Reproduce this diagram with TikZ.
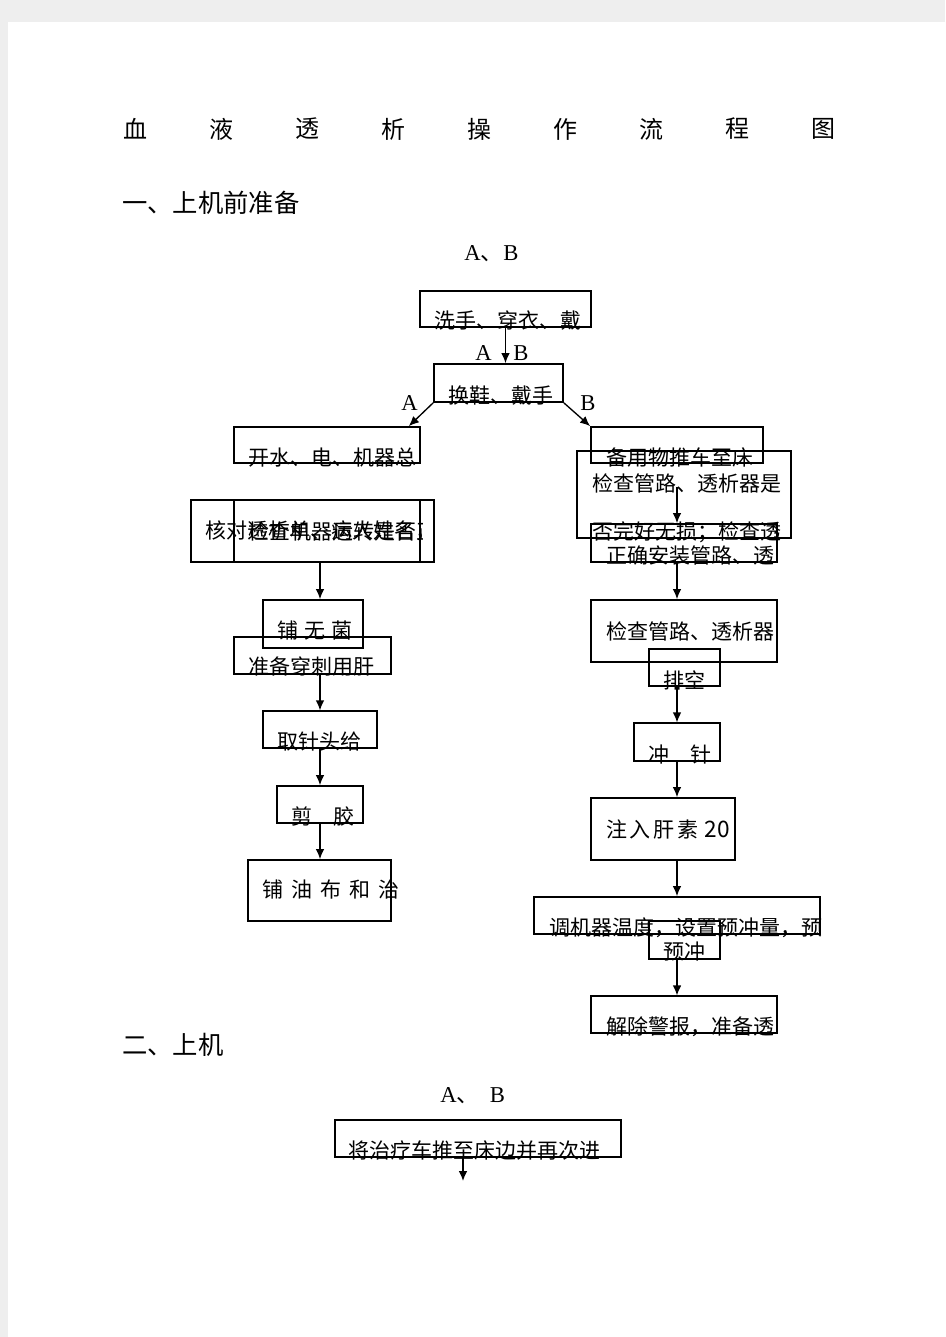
\documentclass[tikz,border=0pt]{standalone}
\usepackage{fontspec}
\setmainfont{Liberation Serif}
\newfontfamily\cjk{Noto Sans CJK SC}
\usetikzlibrary{fit,arrows.meta}

\definecolor{pagegray}{RGB}{238,238,238}

\tikzset{
  box/.style={draw, line width=1.3pt, inner sep=0pt},
  thinbox/.style={draw, line width=0.9pt, inner sep=0pt},
  txt/.style={anchor=west, inner sep=0pt, font=\cjk\fontsize{15.75}{18}\selectfont},
  headtxt/.style={anchor=west, inner sep=0pt, font=\cjk\fontsize{19}{22}\selectfont},
  lbl/.style={anchor=west, inner sep=0pt, font=\fontsize{17}{19}\selectfont},
  arr/.style={-{Latex[length=7.5pt,width=6.5pt]}, line width=1pt},
}

\begin{document}
\begin{tikzpicture}[x=0.75pt,y=0.75pt,yscale=-1,xscale=1]
\useasboundingbox (0,0) rectangle (945,1337);
%page
\fill[pagegray] (0,0) rectangle (945,1337);
\fill[white] (8,22) rectangle (945,1337);

% Title
\foreach \ch [count=\i from 0] in {血,液,透,析,操,作,流,程,图}
  \node[headtxt, font=\cjk\fontsize{18}{20}\selectfont] (title\i) at (123+86*\i,129) {\ch};
\node[headtxt] (sec1) at (122,203) {一、上机前准备};
\node[lbl] (ab1) at (464,254) {A{\cjk 、}B};

%Shape: Rectangle [wash]
\node[box, fit={(420,291) (591,327)}] (wash) {};
\node[txt] (washtxt) at (434,321) {洗手、穿衣、戴};
\node[lbl] (la1) at (475,353) {A};
\node[lbl] (lb1) at (513,353) {B};
%Shape: Rectangle [shoes]
\node[box, fit={(434,364) (563,402)}] (huan) {};
\node[txt] (huantxt) at (448,396) {换鞋、戴手};
\node[lbl] (la2) at (401,403) {A};
\node[lbl] (lb2) at (580,403) {B};

% left branch
\node[box, fit={(234,427) (420,463)}] (kai) {};
\node[txt] (kaitxt) at (248,458) {开水、电、机器总};
\node[box, fit={(191,500) (434,562)}] (hedui) {};
\node[thinbox, fit={(234,500) (420,562)}] (jianji) {};
\begin{scope}
\clip (191,500) rectangle (422,562);
\node[txt] (heduitxt) at (205,531) {核对透析单、病人姓名，测};
\node[txt] (jianjitxt) at (248,531) {检查机器运转是否正常};
\end{scope}
\node[box, fit={(263,600) (363,648)}] (pu) {};
\node[txt] (putxt) at (277,631) {铺\hspace{4.5pt}无\hspace{4.5pt}菌};
\node[thinbox, fit={(234,637) (391,674)}] (zb) {};
\node[txt] (zbtxt) at (248,667) {准备穿刺用肝};
\node[thinbox, fit={(263,711) (377,748)}] (qu) {};
\node[txt] (qutxt) at (277,742) {取针头给};
\node[box, fit={(277,786) (363,823)}] (jian) {};
\node[txt] (jiantxt) at (291,817) {剪　胶};
\node[box, fit={(248,860) (391,921)}] (you) {};
\node[txt] (youtxt) at (262,890) {铺\hspace{6pt}油\hspace{6pt}布\hspace{6pt}和\hspace{6pt}治};

% right branch
\node[box, fit={(591,427) (763,463)}] (bei) {};
\node[txt] (beitxt) at (606,458) {备用物推车至床};
\node[box, fit={(577,451) (791,538)}] (jc1) {};
\node[txt] (jc1txta) at (592,483) {检查管路、透析器是};
\node[txt] (jc1txtb) at (592,532) {否完好无损；检查透};
\node[box, fit={(591,524) (777,562)}] (zheng) {};
\node[txt] (zhengtxt) at (606,556) {正确安装管路、透};
\node[box, fit={(591,600) (777,662)}] (jc2) {};
\node[txt] (jc2txt) at (606,631) {检查管路、透析器};
\node[box, fit={(649,649) (720,686)}] (pk) {};
\node[txt] (pktxt) at (663,680) {排空};
\node[thinbox, fit={(634,723) (720,761)}] (chong) {};
\node[txt] (chongtxt) at (648,755) {冲　针};
\node[box, fit={(591,798) (735,860)}] (zhu) {};
\node[txt] (zhutxt) at (606,829) {注\hspace{2pt}入\hspace{2pt}肝\hspace{2pt}素\hspace{5pt}{\fontsize{17}{19}\selectfont 20}};
\node[box, fit={(534,897) (820,934)}] (tiao) {};
\node[txt] (tiaotxt) at (549,928) {调机器温度，设置预冲量，预};
\node[thinbox, fit={(649,921) (720,959)}] (yc) {};
\node[txt] (yctxt) at (663,952) {预冲};
\node[thinbox, fit={(591,996) (777,1033)}] (jie) {};
\node[txt] (jietxt) at (606,1027) {解除警报，准备透};

% section 2
\node[headtxt] (sec2) at (122,1045) {二、上机};
\node[lbl] (ab2) at (440,1096) {A{\cjk 、}\hspace{8pt}B};
\node[box, fit={(335,1120) (621,1157)}] (jiang) {};
\node[txt] (jiangtxt) at (348,1151) {将治疗车推至床边并再次进};

% connectors
\coordinate (lx) at (320,0);
\coordinate (rx) at (677,0);
\coordinate (jcstart) at (677,487);
\coordinate (end2) at (463,1181);
\draw[arr] (wash.south) -- (wash.south |- huan.north);
\draw[arr] (huan.south west) -- ([xshift=-9pt]kai.north east);
\draw[arr] (huan.south east) -- (bei.north west);
\draw[arr] (lx |- hedui.south) -- (lx |- pu.north);
\draw[arr] (lx |- zb.south) -- (lx |- qu.north);
\draw[arr] (lx |- qu.south) -- (lx |- jian.north);
\draw[arr] (lx |- jian.south) -- (lx |- you.north);
\draw[arr] (jcstart) -- (jcstart |- zheng.north);
\draw[arr] (rx |- zheng.south) -- (rx |- jc2.north);
\draw[arr] (rx |- pk.south) -- (rx |- chong.north);
\draw[arr] (rx |- chong.south) -- (rx |- zhu.north);
\draw[arr] (rx |- zhu.south) -- (rx |- tiao.north);
\draw[arr] (rx |- yc.south) -- (rx |- jie.north);
\draw[arr] (end2 |- jiang.south) -- (end2);

\end{tikzpicture}
\end{document}
